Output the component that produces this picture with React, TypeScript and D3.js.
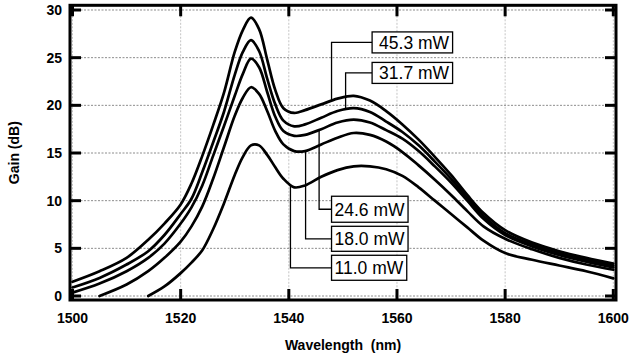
import { useEffect, useRef } from "react";
import * as d3 from "d3";

// wavelength grid shared by all pump-power curves (nm)
const wavelengths = [
  1500, 1505, 1510, 1514, 1517, 1520, 1522, 1524, 1526, 1528, 1530, 1531.5, 1533,
  1534.5, 1536, 1537.5, 1539, 1541, 1543, 1546, 1549, 1552, 1555, 1558, 1561, 1564,
  1567, 1570, 1573, 1576, 1580, 1585, 1590, 1595, 1600,
];

// gain in dB (null = curve not drawn there)
const gain453 = [
  1.5, 2.6, 4.0, 5.9, 7.6, 9.6, 11.8, 14.7, 17.9, 21.3, 25.6, 27.9, 29.2,
  28.0, 24.8, 21.6, 19.7, 19.2, 19.5, 20.1, 20.7, 21.0, 20.5, 19.4, 18.0, 16.4,
  14.6, 12.7, 10.6, 8.7, 6.9, 5.6, 4.7, 4.0, 3.4,
];
const gain317 = [
  0.9, 1.9, 3.3, 4.7, 6.4, 8.6, 10.2, 13.0, 16.1, 19.3, 23.2, 25.6, 26.85,
  25.7, 22.8, 20.1, 18.4, 17.8, 18.0, 18.7, 19.4, 19.7, 19.3, 18.3, 17.2, 15.8,
  14.1, 12.3, 10.3, 8.4, 6.6, 5.4, 4.5, 3.8, 3.2,
];
const gain246 = [
  0.35, 1.3, 2.6, 4.0, 5.5, 7.6, 9.3, 11.6, 14.7, 17.8, 21.0, 23.3, 24.9,
  24.0, 21.4, 18.8, 17.3, 16.8, 16.9, 17.5, 18.2, 18.5, 18.2, 17.4, 16.5, 15.2,
  13.6, 11.9, 10.0, 8.1, 6.4, 5.2, 4.3, 3.6, 3.0,
];
const gain180 = [
  null, 0.0, 1.2, 2.6, 4.0, 5.7, 7.3, 9.4, 12.3, 15.6, 18.9, 20.8, 21.9,
  21.2, 19.4, 17.3, 15.9, 15.2, 15.2, 15.9, 16.6, 17.1, 16.9, 16.2, 15.1, 13.7,
  12.2, 10.6, 8.9, 7.3, 6.0, 4.9, 4.0, 3.3, 2.75,
];
const gain110 = [
  null, null, null, 0.0, 1.0, 2.4, 3.5, 4.8, 7.0, 9.7, 12.7, 14.6, 15.8,
  15.8, 14.8, 13.5, 12.3, 11.4, 11.6, 12.5, 13.2, 13.6, 13.6, 13.3, 12.6, 11.4,
  10.0, 8.6, 7.2, 5.8, 4.5, 3.8, 3.2, 2.6, 1.85,
];

const seriesLabels = ["45.3 mW", "31.7 mW", "24.6 mW", "18.0 mW", "11.0 mW"];
const xTicks = [1500, 1520, 1540, 1560, 1580, 1600];
const yTicks = [0, 5, 10, 15, 20, 25, 30];

const FONT = "'Liberation Sans', Arial, Helvetica, sans-serif";

export default function App() {
  const svgRef = useRef<SVGSVGElement | null>(null);

  useEffect(() => {
    if (!svgRef.current) return;
    document.body.style.margin = "0";

    const svg = d3.select(svgRef.current);
    svg.selectAll("*").remove();

    const frame = { left: 70, right: 616, top: 5.3, bottom: 300 };
    const x = d3.scaleLinear().domain([1500, 1600]).range([72.5, 613.3]);
    const y = d3.scaleLinear().domain([0, 30]).range([296, 10]);

    const series = [gain453, gain317, gain246, gain180, gain110];

    // callouts: box left edge / centre in data units, leader drop wavelength
    const callouts = [
      { box: [1555.4, 26.6], h: 21, padL: 7, leader: 1547.9 },
      { box: [1555.4, 23.4], h: 21, padL: 7, leader: 1550.5 },
      { box: [1547.9, 9.1], h: 26, padL: 3, leader: 1545.6 },
      { box: [1547.9, 6.0], h: 25, padL: 3, leader: 1543.1 },
      { box: [1547.9, 2.96], h: 25, padL: 3, leader: 1540.3 },
    ];

    // grid
    const grid = svg.append("g");
    grid
      .selectAll("line.gx")
      .data(xTicks)
      .join("line")
      .attr("x1", (d) => x(d))
      .attr("x2", (d) => x(d))
      .attr("y1", frame.top)
      .attr("y2", frame.bottom)
      .attr("stroke", "#c4c4c4")
      .attr("stroke-width", 1)
      .attr("stroke-dasharray", "2,1.5");
    grid
      .selectAll("line.gy")
      .data(yTicks)
      .join("line")
      .attr("x1", frame.left)
      .attr("x2", frame.right)
      .attr("y1", (d) => y(d))
      .attr("y2", (d) => y(d))
      .attr("stroke", "#8c8c8c")
      .attr("stroke-width", 1)
      .attr("stroke-dasharray", "2,1.5");

    // interpolate gain at a wavelength for leader end points
    const gainAt = (vals: (number | null)[], wl: number) => {
      const i = d3.bisectRight(wavelengths, wl);
      const x0 = wavelengths[i - 1];
      const x1 = wavelengths[i];
      const v0 = vals[i - 1] as number;
      const v1 = vals[i] as number;
      return v0 + ((v1 - v0) * (wl - x0)) / (x1 - x0);
    };

    // leader lines
    callouts.forEach((c, i) => {
      const by = y(c.box[1]);
      const lx = x(c.leader);
      const ly = y(gainAt(series[i], c.leader));
      svg
        .append("path")
        .attr("d", `M${x(c.box[0])},${by}H${lx}V${ly}`)
        .attr("fill", "none")
        .attr("stroke", "#000")
        .attr("stroke-width", 1.3);
    });

    // curves
    const line = d3
      .line<number | null>()
      .defined((d) => d != null)
      .x((d, i) => x(wavelengths[i]))
      .y((d) => y(d as number))
      .curve(d3.curveCatmullRom.alpha(0.5));

    svg
      .append("g")
      .selectAll("path")
      .data(series)
      .join("path")
      .attr("d", (d) => line(d))
      .attr("fill", "none")
      .attr("stroke", "#000")
      .attr("stroke-width", 2.7)
      .attr("stroke-linejoin", "round")
      .attr("stroke-linecap", "round");

    // callout boxes
    callouts.forEach((c, i) => {
      const bx = x(c.box[0]);
      const by = y(c.box[1]);
      const g = svg.append("g");
      const rect = g.append("rect");
      const t = g
        .append("text")
        .attr("x", bx + c.padL)
        .attr("y", by + 6.3)
        .attr("font-family", FONT)
        .attr("font-size", 17.5)
        .attr("fill", "#000")
        .text(seriesLabels[i]);
      const w = (t.node() as SVGTextElement).getBBox().width;
      rect
        .attr("x", bx)
        .attr("y", by - c.h / 2)
        .attr("width", w + c.padL + 3)
        .attr("height", c.h)
        .attr("fill", "#fff")
        .attr("stroke", "#000")
        .attr("stroke-width", 1.3);
    });

    // frame
    svg
      .append("rect")
      .attr("x", frame.left)
      .attr("y", frame.top)
      .attr("width", frame.right - frame.left)
      .attr("height", frame.bottom - frame.top)
      .attr("fill", "none")
      .attr("stroke", "#000")
      .attr("stroke-width", 3);

    // inward ticks on all sides
    const ticks = svg.append("g").attr("stroke", "#000").attr("stroke-width", 3);
    const tl = 11;
    xTicks.forEach((t) => {
      ticks.append("line").attr("x1", x(t)).attr("x2", x(t)).attr("y1", frame.bottom).attr("y2", frame.bottom - tl);
      ticks.append("line").attr("x1", x(t)).attr("x2", x(t)).attr("y1", frame.top).attr("y2", frame.top + tl);
    });
    yTicks.forEach((t) => {
      ticks.append("line").attr("x1", frame.left).attr("x2", frame.left + tl).attr("y1", y(t)).attr("y2", y(t));
      ticks.append("line").attr("x1", frame.right - tl).attr("x2", frame.right).attr("y1", y(t)).attr("y2", y(t));
    });

    // tick labels
    svg
      .append("g")
      .selectAll("text")
      .data(xTicks)
      .join("text")
      .attr("x", (d) => x(d))
      .attr("y", 322.5)
      .attr("text-anchor", "middle")
      .attr("font-family", FONT)
      .attr("font-weight", "bold")
      .attr("font-size", 14)
      .text((d) => d);

    svg
      .append("g")
      .selectAll("text")
      .data(yTicks)
      .join("text")
      .attr("x", 62)
      .attr("y", (d) => y(d) + 5)
      .attr("text-anchor", "end")
      .attr("font-family", FONT)
      .attr("font-weight", "bold")
      .attr("font-size", 14)
      .text((d) => d);

    // axis titles
    svg
      .append("text")
      .attr("x", (frame.left + frame.right) / 2)
      .attr("y", 350)
      .attr("text-anchor", "middle")
      .attr("font-family", FONT)
      .attr("font-weight", "bold")
      .attr("font-size", 14)
      .text("Wavelength\u00A0 (nm)");

    svg
      .append("text")
      .attr("transform", `translate(19,${(frame.top + frame.bottom) / 2}) rotate(-90)`)
      .attr("text-anchor", "middle")
      .attr("font-family", FONT)
      .attr("font-weight", "bold")
      .attr("font-size", 14)
      .text("Gain (dB)");
  }, []);

  return <svg ref={svgRef} width={629} height={359} style={{ display: "block" }} />;
}
